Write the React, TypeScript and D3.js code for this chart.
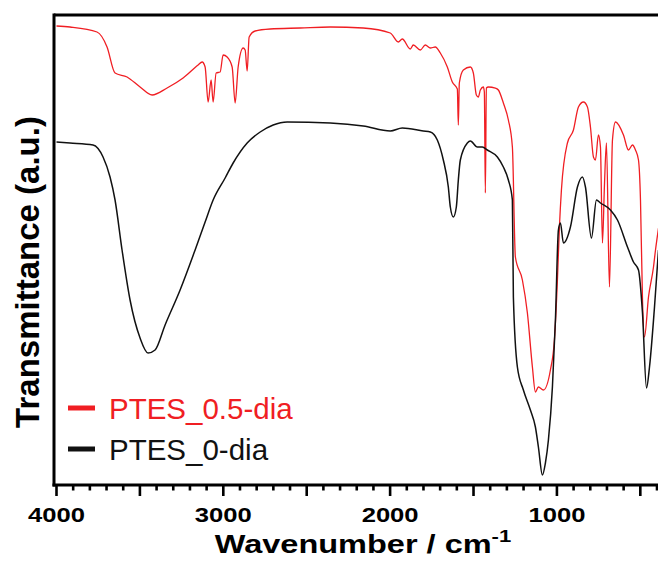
import React from 'react';
import * as d3 from 'd3';

// FTIR spectra (transmittance in arbitrary units)
const seriesNames = ['PTES_0.5-dia', 'PTES_0-dia'];
const seriesColors = ['#f01e23', '#111111'];

const wavenumberRed = [4000, 3919, 3757, 3697, 3649, 3577, 3499, 3427, 3337, 3241, 3151, 3127, 3109, 3091, 3073, 3061, 3043, 3019, 3001, 2977, 2947, 2929, 2911, 2881, 2869, 2857, 2845, 2809, 2719, 2539, 2359, 2161, 1999, 1951, 1927, 1879, 1861, 1819, 1789, 1759, 1729, 1699, 1657, 1627, 1597, 1591, 1585, 1561, 1519, 1501, 1483, 1471, 1459, 1441, 1435, 1429, 1423, 1411, 1369, 1351, 1321, 1291, 1267, 1249, 1207, 1177, 1147, 1129, 1111, 1081, 1039, 1015, 997, 985, 973, 937, 901, 871, 841, 817, 799, 781, 769, 751, 739, 727, 715, 703, 685, 667, 649, 601, 571, 547, 529, 511, 499, 487, 475, 451, 421, 409, 391];
const transRed = [459, 458, 453, 438, 412, 408, 398, 390, 397, 407, 420, 423, 418, 383, 405, 383, 412, 413, 430, 428, 418, 382, 418, 437, 435, 414, 448, 454, 456, 457, 458, 457, 452, 443, 446, 436, 440, 435, 440, 437, 438, 432, 418, 403, 396, 360, 402, 415, 418, 412, 390, 388, 395, 398, 393, 292, 397, 398, 397, 395, 382, 365, 338, 228, 205, 172, 118, 93, 98, 95, 115, 145, 205, 258, 295, 342, 355, 378, 383, 378, 358, 328, 325, 350, 338, 242, 300, 342, 198, 345, 363, 350, 335, 340, 335, 325, 285, 185, 148, 188, 218, 235, 257];

const wavenumberBlack = [4000, 3919, 3781, 3721, 3679, 3649, 3607, 3559, 3499, 3451, 3409, 3349, 3259, 3169, 3109, 3061, 2989, 2941, 2857, 2779, 2701, 2617, 2359, 2161, 1999, 1927, 1801, 1759, 1717, 1681, 1651, 1639, 1621, 1603, 1591, 1579, 1537, 1519, 1477, 1447, 1417, 1357, 1321, 1291, 1267, 1261, 1237, 1201, 1159, 1129, 1111, 1087, 1069, 1051, 1027, 1009, 991, 979, 961, 919, 877, 847, 829, 793, 763, 739, 679, 637, 577, 541, 511, 487, 463, 445, 415, 391];
const transBlack = [343, 342, 340, 328, 308, 285, 235, 185, 147, 132, 135, 160, 195, 235, 263, 285, 307, 322, 342, 353, 360, 363, 362, 359, 354, 357, 354, 353, 345, 325, 298, 278, 268, 278, 305, 325, 342, 344, 338, 338, 335, 328, 318, 305, 285, 188, 118, 95, 75, 58, 38, 10, 22, 45, 98, 165, 255, 262, 242, 258, 298, 308, 298, 247, 285, 282, 275, 265, 238, 223, 215, 172, 97, 118, 178, 235];

const tickLabels = [4000, 3000, 2000, 1000];

const W = 658;
const H = 568;
const FONT = "Arial, 'Liberation Sans', sans-serif";

export default function App() {
  const x = d3.scaleLinear().domain([4000, 400]).range([56.5, 657]);
  const y = d3.scaleLinear().domain([0, 470]).range([485, 15]);

  const lineGen = d3.line<[number, number]>()
    .x(d => x(d[0]))
    .y(d => y(d[1]))
    .curve(d3.curveMonotoneX);

  const series = [
    d3.zip(wavenumberRed, transRed) as [number, number][],
    d3.zip(wavenumberBlack, transBlack) as [number, number][],
  ];

  // minor every 100, major every 500
  const ticks = d3.range(4000, 399, -100);

  return (
    <svg width={W} height={H} style={{ position: 'absolute', left: 0, top: 0, background: '#fff' }}>
      {series.map((s, i) => (
        <path key={i} d={lineGen(s) || ''} fill="none" stroke={seriesColors[i]}
          strokeWidth={i === 0 ? 1.3 : 1.5} strokeLinejoin="round" />
      ))}

      {/* frame, no right side */}
      <line x1={54} y1={15} x2={658} y2={15} stroke="#000" strokeWidth={3} />
      <line x1={54} y1={13.5} x2={54} y2={486.5} stroke="#000" strokeWidth={3} />
      <line x1={52.5} y1={485} x2={658} y2={485} stroke="#000" strokeWidth={3} />

      {ticks.map(t => (
        <line key={t} x1={x(t)} x2={x(t)} y1={485} y2={t % 500 === 0 ? 496 : 490.5}
          stroke="#000" strokeWidth={2.6} />
      ))}
      {tickLabels.map(t => (
        <text key={t} transform={`translate(${x(t)},522) scale(1.22,1)`} textAnchor="middle"
          fontFamily={FONT} fontWeight="bold" fontSize={21} fill="#000">{t}</text>
      ))}

      <text transform="translate(363,553) scale(1.3,1)" textAnchor="middle"
        fontFamily={FONT} fontWeight="bold" fontSize={25} fill="#000">
        Wavenumber / cm<tspan fontSize={17} dy={-11}>-1</tspan>
      </text>
      <text transform="translate(39,272) rotate(-90)" textAnchor="middle"
        fontFamily={FONT} fontWeight="bold" fontSize={33} fill="#000">
        Transmittance (a.u.)
      </text>

      {seriesNames.map((n, i) => (
        <g key={n} transform={`translate(0,${408 + i * 41})`}>
          <line x1={68} x2={95} y1={0} y2={0} stroke={seriesColors[i]} strokeWidth={5} />
          <text x={109} y={10.5} fontFamily={FONT} fontSize={29.5} fill={seriesColors[i]}>{n}</text>
        </g>
      ))}
    </svg>
  );
}
